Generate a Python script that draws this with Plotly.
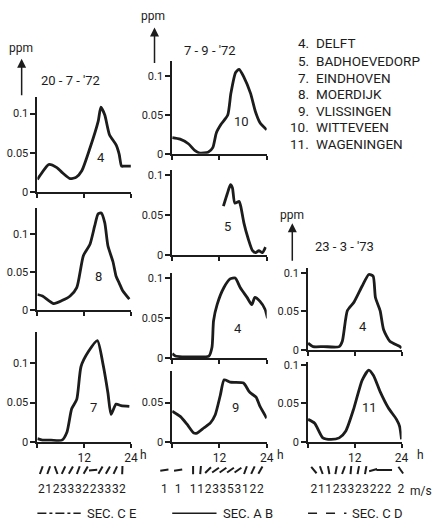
import math
import plotly.graph_objects as go

W, H = 442, 529
FONT = "Roboto"
INK = "#1c1c1c"

# ---------------- data (hours of day, ppm) ----------------
hours_4a = [0, 0.8, 2.9, 5.0, 6.3, 8.4, 10.0, 11.4, 13.5, 15.6, 16.3, 17.3, 18.5, 20.2, 21.0, 21.6, 22.3, 24.0]
ppm_4a = [0.016, 0.022, 0.035, 0.031, 0.025, 0.017, 0.019, 0.027, 0.056, 0.090, 0.108, 0.098, 0.073, 0.060, 0.048, 0.033, 0.033, 0.033]

hours_8 = [0, 1.3, 4.2, 6.3, 8.4, 10.1, 11.8, 13.5, 14.7, 15.6, 16.4, 17.3, 18.1, 19.4, 20.2, 21.0, 21.9, 23.6]
ppm_8 = [0.021, 0.019, 0.009, 0.013, 0.019, 0.030, 0.072, 0.087, 0.111, 0.127, 0.128, 0.115, 0.085, 0.064, 0.045, 0.036, 0.026, 0.015]

hours_7 = [0, 1.3, 3.5, 6.3, 7.6, 8.8, 10.1, 11.2, 13.1, 15.4, 16.8, 18.1, 18.9, 20.2, 21.5, 23.6]
ppm_7 = [0.004, 0.002, 0.002, 0.002, 0.0125, 0.042, 0.054, 0.096, 0.115, 0.129, 0.100, 0.0625, 0.035, 0.048, 0.046, 0.045]

hours_10 = [0, 2.0, 4.1, 5.8, 7.0, 9.1, 10.3, 11.2, 12.4, 14.1, 14.9, 16.1, 17.0, 18.2, 19.9, 21.1, 22.3, 24.0]
ppm_10 = [0.021, 0.019, 0.013, 0.004, 0.001, 0.002, 0.008, 0.027, 0.038, 0.050, 0.078, 0.105, 0.109, 0.099, 0.078, 0.055, 0.040, 0.031]

hours_5 = [13.0, 14.0, 14.8, 15.3, 15.9, 17.0, 17.4, 18.2, 19.3, 20.4, 21.2, 22.0, 22.9, 23.7]
ppm_5 = [0.061, 0.077, 0.088, 0.084, 0.065, 0.067, 0.061, 0.040, 0.020, 0.005, 0.0025, 0.005, 0.0025, 0.0095]

hours_4b = [0, 0.8, 2.5, 6.0, 9.3, 10.1, 10.5, 11.4, 13.1, 14.7, 16.0, 17.3, 19.0, 20.2, 21.0, 22.3, 23.6, 24.2]
ppm_4b = [0.006, 0.003, 0.002, 0.002, 0.003, 0.014, 0.047, 0.067, 0.088, 0.099, 0.100, 0.088, 0.076, 0.067, 0.076, 0.071, 0.061, 0.050]

hours_9 = [0, 2.1, 3.8, 5.5, 6.3, 8.0, 9.7, 10.9, 12.2, 13.2, 14.7, 18.1, 19.4, 20.2, 21.3, 22.3, 24.0]
ppm_9 = [0.039, 0.032, 0.022, 0.011, 0.011, 0.0175, 0.024, 0.034, 0.059, 0.079, 0.076, 0.075, 0.065, 0.061, 0.057, 0.045, 0.030]

hours_4c = [0, 1.3, 4.0, 8.0, 8.8, 10.1, 11.8, 13.9, 15.6, 16.7, 17.3, 18.5, 19.4, 21.0, 23.6, 24.0]
ppm_4c = [0.0085, 0.004, 0.004, 0.004, 0.011, 0.051, 0.062, 0.083, 0.098, 0.096, 0.068, 0.051, 0.026, 0.011, 0.004, 0.002]

hours_11 = [0, 1.7, 3.8, 5.9, 8.0, 9.7, 11.8, 13.9, 15.6, 16.8, 18.5, 20.6, 22.7, 23.5, 24.0]
ppm_11 = [0.029, 0.024, 0.005, 0.003, 0.005, 0.014, 0.044, 0.080, 0.093, 0.086, 0.065, 0.044, 0.029, 0.020, 0.003]

# wind observations per date: time (h), direction stroke angle (deg), speed (m/s)
wind_hours_1 = [1.0, 2.9, 4.8, 6.7, 8.6, 10.5, 12.4, 14.3, 16.2, 18.1, 20.0, 21.8]
wind_angle_1 = [70, 70, 110, 65, 60, 70, 60, 5, 60, 60, 65, 88]
wind_speed_1 = ["2", "1", "2", "3", "3", "3", "2", "2", "3", "3", "3", "2"]

wind_hours_2 = [-2.0, 1.5, 5.3, 7.2, 9.1, 11.0, 12.9, 14.8, 16.7, 18.6, 20.5, 22.4]
wind_angle_2 = [8, 8, 90, 85, 45, 35, 35, 35, 35, 70, 65, 60]
wind_speed_2 = ["1", "1", "1", "1", "2", "3", "3", "5", "3", "1", "2", "2"]

wind_hours_3 = [1.5, 3.4, 5.3, 7.2, 9.1, 11.0, 12.9, 14.8, 16.7, 18.6, 20.5, 23.8]
wind_angle_3 = [130, 110, 100, 80, 70, 85, 80, 80, 15, 0, 0, 125]
wind_speed_3 = ["2", "1", "1", "2", "3", "3", "2", "3", "2", "2", "2", "2"]

station_nums = ["4.", "5.", "7.", "8.", "9.", "10.", "11."]
station_names = ["DELFT", "BADHOEVEDORP", "EINDHOVEN", "MOERDIJK", "VLISSINGEN", "WITTEVEEN", "WAGENINGEN"]

dates = ["20 - 7 - '72", "7 - 9 - '72", "23 - 3 - '73"]
sections = ["SEC. C E", "SEC. A B", "SEC. C D"]

# ---------------- layout helpers ----------------
def px(x):
    return x / W

def py(y):
    return 1 - y / H

def note(x, y, text, size=13, xanchor="center"):
    return dict(x=px(x), y=py(y), xref="paper", yref="paper", text=text,
                xanchor=xanchor, yanchor="middle", showarrow=False,
                font=dict(size=size, family=FONT, color=INK))

COLS = [(38, 133), (175, 271), (313, 408)]

panels = [
    dict(h=hours_4a, v=ppm_4a, lab="4", lp=(16.2, 0.044), col=0, base=192, top=95, ytop=0.121, yt=[0, 0.05, 0.1], bottom=False),
    dict(h=hours_8, v=ppm_8, lab="8", lp=(15.7, 0.044), col=0, base=313, top=208, ytop=0.135, yt=[0, 0.05, 0.1], bottom=False),
    dict(h=hours_7, v=ppm_7, lab="7", lp=(14.4, 0.044), col=0, base=447, top=335, ytop=0.140, yt=[0, 0.05, 0.1], bottom=True),
    dict(h=hours_10, v=ppm_10, lab="10", lp=(17.5, 0.042), col=1, base=153, top=58, ytop=0.120, yt=[0, 0.05, 0.1], bottom=False),
    dict(h=hours_5, v=ppm_5, lab="5", lp=(14.0, 0.035), col=1, base=256, top=170, ytop=0.106, yt=[0, 0.05, 0.1], bottom=False),
    dict(h=hours_4b, v=ppm_4b, lab="4", lp=(16.75, 0.037), col=1, base=362, top=275, ytop=0.106, yt=[0, 0.05, 0.1], bottom=False),
    dict(h=hours_9, v=ppm_9, lab="9", lp=(16.0, 0.044), col=1, base=447, top=375, ytop=0.090, yt=[0, 0.05], bottom=True),
    dict(h=hours_4c, v=ppm_4c, lab="4", lp=(14.1, 0.030), col=2, base=353, top=270, ytop=0.106, yt=[0, 0.05, 0.1], bottom=False),
    dict(h=hours_11, v=ppm_11, lab="11", lp=(15.7, 0.045), col=2, base=447, top=366, ytop=0.103, yt=[0, 0.05, 0.1], bottom=True),
]

fig = go.Figure()
layout = dict(
    width=W, height=H, margin=dict(l=0, r=0, t=0, b=0, pad=0),
    paper_bgcolor="white", plot_bgcolor="rgba(0,0,0,0)", autosize=False,
    showlegend=False, font=dict(family=FONT, size=11, color=INK),
)
annotations = []
shapes = []

ytxt = {0: "0", 0.05: "0.05", 0.1: "0.1"}

for i, p in enumerate(panels, start=1):
    x0, x1 = COLS[p["col"]]
    xa = "xaxis" if i == 1 else f"xaxis{i}"
    ya = "yaxis" if i == 1 else f"yaxis{i}"
    xr = "x" if i == 1 else f"x{i}"
    yr = "y" if i == 1 else f"y{i}"
    layout[xa] = dict(
        domain=[px(x0), px(x1)], range=[0, 24], anchor=yr,
        showline=True, linecolor=INK, linewidth=1.8, mirror=False,
        ticks="outside", ticklen=4, tickwidth=1.5, tickcolor=INK,
        tickvals=[0, 12, 24], ticktext=["", "12", "24"],
        showticklabels=p["bottom"], tickfont=dict(size=12, family=FONT, color=INK),
        showgrid=False, zeroline=False, fixedrange=True,
    )
    layout[ya] = dict(
        domain=[py(p["base"]), py(p["top"])], range=[0, p["ytop"]], anchor=xr,
        showline=True, linecolor=INK, linewidth=1.8,
        ticks="outside", ticklen=5, tickwidth=1.5, tickcolor=INK,
        tickvals=p["yt"], ticktext=[ytxt[t] for t in p["yt"]],
        tickfont=dict(size=11, family=FONT, color=INK),
        showgrid=False, zeroline=False, fixedrange=True,
    )
    fig.add_trace(go.Scatter(
        x=p["h"], y=p["v"], xaxis=xr, yaxis=yr, mode="lines",
        line=dict(color=INK, width=2.8, shape="spline", smoothing=0.6),
        hoverinfo="skip",
    ))
    annotations.append(dict(
        x=p["lp"][0], y=p["lp"][1], xref=xr, yref=yr, text=p["lab"],
        xanchor="center", yanchor="middle",
        showarrow=False, font=dict(size=13, family=FONT, color=INK),
    ))

# wind rows
wind_sets = [
    (wind_hours_1, wind_angle_1, wind_speed_1),
    (wind_hours_2, wind_angle_2, wind_speed_2),
    (wind_hours_3, wind_angle_3, wind_speed_3),
]
EXT = 4.0
ROW_TOP, ROW_BOT = 466, 506
for k, (wh, wa, ws) in enumerate(wind_sets):
    idx = 10 + k
    x0, x1 = COLS[k]
    pph = (x1 - x0) / 24.0
    ppu = (ROW_BOT - ROW_TOP)
    layout[f"xaxis{idx}"] = dict(
        domain=[px(x0 - EXT * pph), px(x1 + EXT * pph)], range=[-EXT, 24 + EXT],
        anchor=f"y{idx}", visible=False, fixedrange=True,
    )
    layout[f"yaxis{idx}"] = dict(
        domain=[py(ROW_BOT), py(ROW_TOP)], range=[0, 1],
        anchor=f"x{idx}", visible=False, fixedrange=True,
    )
    L = 4.2
    ycen = 0.75
    xs, ys = [], []
    for h, a in zip(wh, wa):
        dx = L * math.cos(math.radians(a)) / pph
        dy = L * math.sin(math.radians(a)) / ppu
        xs += [h - dx, h + dx, None]
        ys += [ycen - dy, ycen + dy, None]
    fig.add_trace(go.Scatter(
        x=xs, y=ys, xaxis=f"x{idx}", yaxis=f"y{idx}", mode="lines",
        line=dict(color=INK, width=2), hoverinfo="skip",
    ))
    fig.add_trace(go.Scatter(
        x=wh, y=[0.23] * len(wh), xaxis=f"x{idx}", yaxis=f"y{idx}", mode="text",
        text=ws, textfont=dict(size=12, family=FONT, color=INK), hoverinfo="skip",
    ))

# "h" unit after 24 and m/s
for hx in (146, 285, 427):
    annotations.append(note(hx, 461, "h", size=12))
annotations.append(note(415, 497, "m/s", size=12, xanchor="left"))

# ppm labels with arrows
for (tx, ty, ax_x, tip, tail) in [(21, 45, 22, 56, 94), (155, 12, 157, 24, 61), (297, 215, 297, 224, 263)]:
    annotations.append(note(tx, ty, "ppm", size=12))
    annotations.append(dict(x=px(ax_x), y=py(tip), xref="paper", yref="paper", text="",
                            showarrow=True, ax=0, ay=tail - tip, axref="pixel", ayref="pixel",
                            arrowhead=2, arrowsize=1.2, arrowwidth=1.5, arrowcolor=INK))

# date titles
for (tx, ty), d in zip([(72, 78), (213, 47), (350, 248)], dates):
    annotations.append(note(tx, ty, d, size=13))

# station legend
legend_y = [40, 58, 76, 92, 109, 126, 143]
for n, s, yy in zip(station_nums, station_names, legend_y):
    annotations.append(note(316, yy, n, size=13.5, xanchor="right"))
    annotations.append(note(319, yy, s, size=13.5, xanchor="left"))

# section legend
for (lx0, lx1, dash, tx), s in zip([(38, 82, "dashdot", 86), (175, 220, "solid", 225), (313, 352, "dash", 356)], sections):
    shapes.append(dict(type="line", xref="paper", yref="paper", x0=px(lx0), x1=px(lx1),
                       y0=py(520), y1=py(520), line=dict(color=INK, width=1.5, dash=dash)))
    annotations.append(note(tx, 520, s, size=13, xanchor="left"))

layout["annotations"] = annotations
layout["shapes"] = shapes
fig.update_layout(**layout)
fig.write_html(
    "out.html",
    config={"responsive": False, "displayModeBar": False},
    post_script="document.body.style.margin='0';document.body.style.padding='0';document.body.style.overflow='hidden';",
)
